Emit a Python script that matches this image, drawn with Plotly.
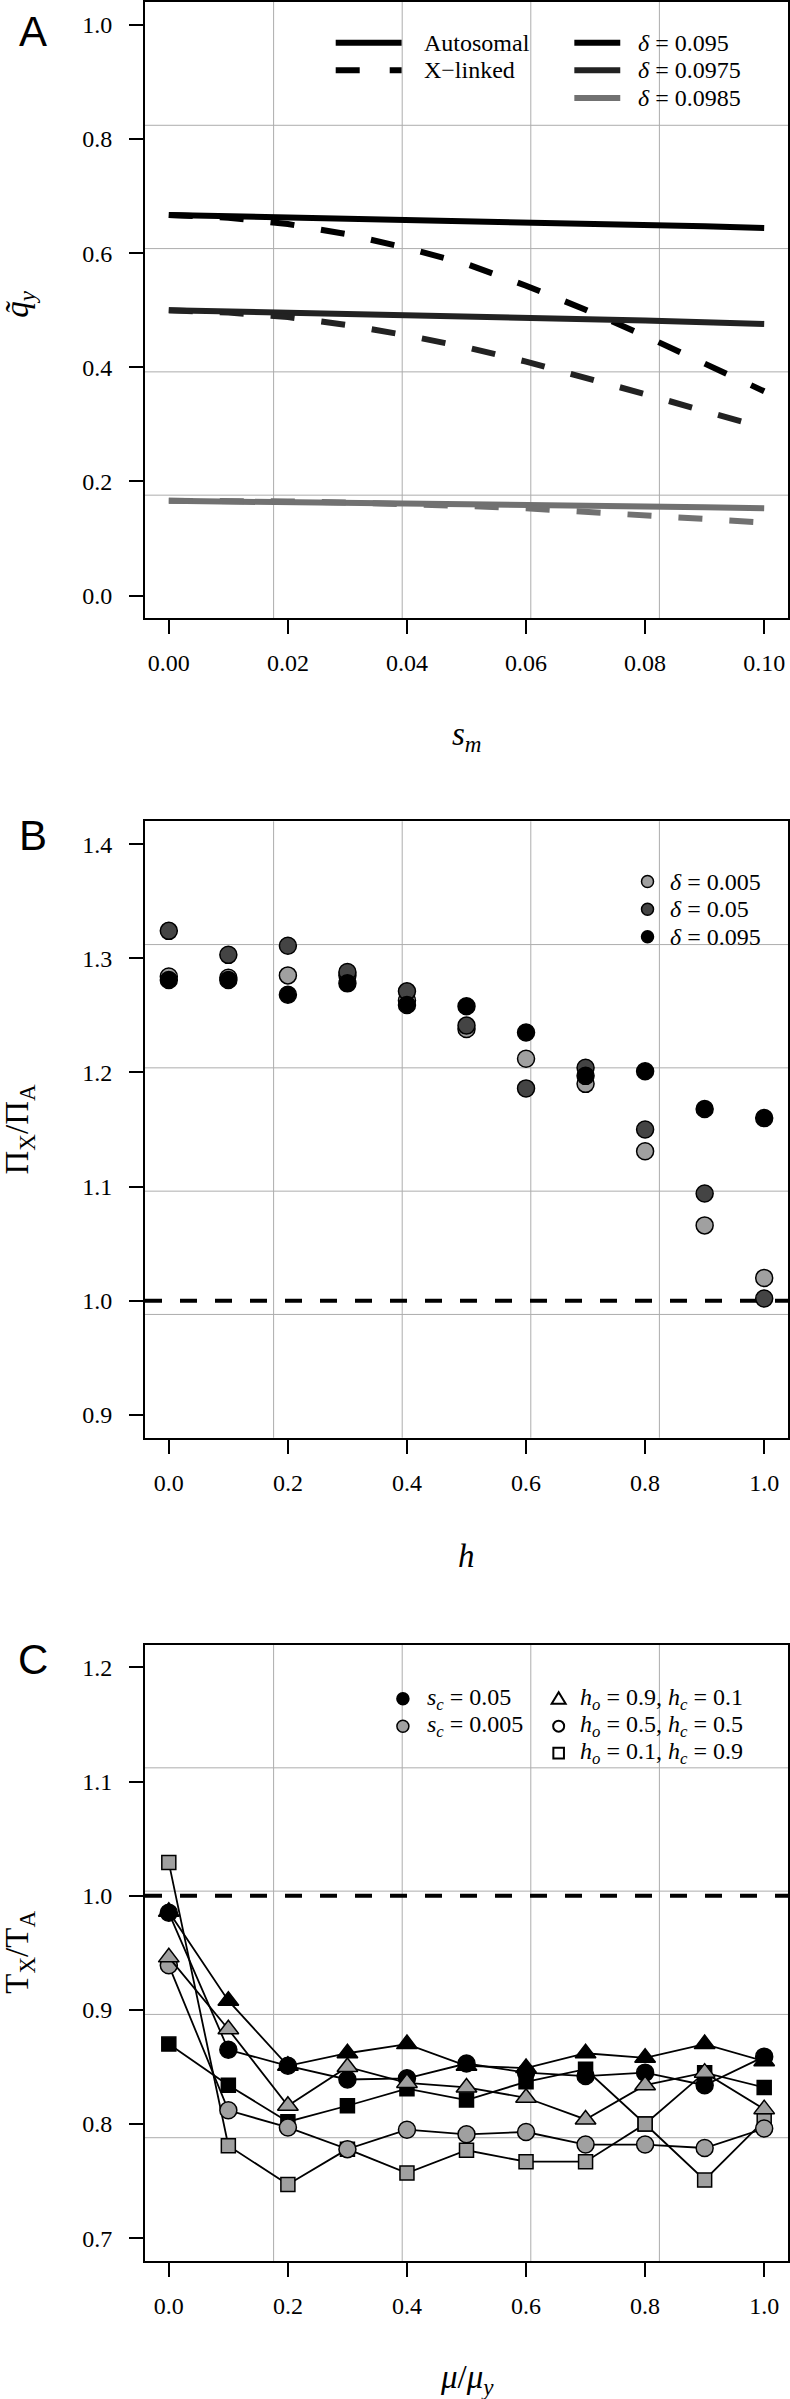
import plotly.graph_objects as go

# ---------------- DATA ----------------
# Panel A
s_m = [0.00, 0.01, 0.02, 0.03, 0.04, 0.05, 0.06, 0.07, 0.08, 0.09, 0.10]
auto_d095 = [0.667, 0.665, 0.663, 0.661, 0.659, 0.657, 0.655, 0.652, 0.650, 0.647, 0.644]
auto_d0975 = [0.500, 0.498, 0.496, 0.494, 0.492, 0.490, 0.487, 0.485, 0.482, 0.479, 0.476]
auto_d0985 = [0.166, 0.165, 0.164, 0.163, 0.161, 0.160, 0.159, 0.158, 0.156, 0.155, 0.153]
xlnk_d095 = [0.667, 0.662, 0.651, 0.633, 0.609, 0.581, 0.543, 0.501, 0.455, 0.406, 0.358]
xlnk_d0975 = [0.500, 0.496, 0.488, 0.474, 0.456, 0.435, 0.410, 0.382, 0.353, 0.323, 0.294]
xlnk_d0985 = [0.166, 0.166, 0.165, 0.163, 0.161, 0.157, 0.153, 0.147, 0.141, 0.135, 0.128]
deltas_A = ["0.095", "0.0975", "0.0985"]

# Panel B
h_vals = [0.0, 0.1, 0.2, 0.3, 0.4, 0.5, 0.6, 0.7, 0.8, 0.9, 1.0]
pi_d005 = [1.284, 1.283, 1.285, 1.285, 1.263, 1.238, 1.212, 1.190, 1.131, 1.066, 1.020]
pi_d05 = [1.324, 1.303, 1.311, 1.288, 1.271, 1.241, 1.186, 1.204, 1.150, 1.094, 1.002]
pi_d095 = [1.281, 1.281, 1.268, 1.278, 1.259, 1.258, 1.235, 1.197, 1.201, 1.168, 1.160]
deltas_B = ["0.005", "0.05", "0.095"]

# Panel C
mu_ratio = [0.0, 0.1, 0.2, 0.3, 0.4, 0.5, 0.6, 0.7, 0.8, 0.9, 1.0]
sc05_tri = [0.986, 0.908, 0.851, 0.862, 0.870, 0.851, 0.849, 0.862, 0.858, 0.870, 0.855]
sc05_cir = [0.985, 0.865, 0.851, 0.839, 0.840, 0.853, 0.845, 0.842, 0.845, 0.834, 0.859]
sc05_sq = [0.870, 0.834, 0.802, 0.816, 0.831, 0.821, 0.837, 0.848, 0.800, 0.845, 0.832]
sc005_tri = [0.946, 0.883, 0.816, 0.850, 0.836, 0.832, 0.823, 0.804, 0.834, 0.845, 0.813]
sc005_cir = [0.939, 0.812, 0.797, 0.778, 0.795, 0.791, 0.793, 0.782, 0.782, 0.779, 0.796]
sc005_sq = [1.029, 0.781, 0.747, 0.778, 0.757, 0.777, 0.767, 0.767, 0.800, 0.751, 0.803]

xt_A = [0.00, 0.02, 0.04, 0.06, 0.08, 0.10]
xt_A_lab = ["0.00", "0.02", "0.04", "0.06", "0.08", "0.10"]
yt_A = [0.0, 0.2, 0.4, 0.6, 0.8, 1.0]
yt_A_lab = ["0.0", "0.2", "0.4", "0.6", "0.8", "1.0"]
xt_BC = [0.0, 0.2, 0.4, 0.6, 0.8, 1.0]
xt_BC_lab = ["0.0", "0.2", "0.4", "0.6", "0.8", "1.0"]
yt_B = [0.9, 1.0, 1.1, 1.2, 1.3, 1.4]
yt_B_lab = ["0.9", "1.0", "1.1", "1.2", "1.3", "1.4"]
yt_C = [0.7, 0.8, 0.9, 1.0, 1.1, 1.2]
yt_C_lab = ["0.7", "0.8", "0.9", "1.0", "1.1", "1.2"]

# ---------------- LAYOUT GEOMETRY ----------------
W, H = 790, 2399
ML, MR, MT, MB = 145, 1, 0, 138
PW = W - ML - MR
PH = H - MT - MB
boxes = {1: (0, 617), 2: (820, 1437), 3: (1644, 2261)}  # top, bottom in px


def ydom(n):
    top, bot = boxes[n]
    return [(PH - bot) / PH, (PH - top) / PH]


def fx(xpx):
    return (xpx - ML) / PW


def fy(n, ypx):
    top, bot = boxes[n]
    return (bot - ypx) / (bot - top)


SERIF = "Liberation Serif"
SANS = "Liberation Sans"
BLACK = "#000000"
DARK = "#222222"
GREY = "#717171"
LGREY = "#a0a0a0"
MGREY = "#444444"
LINECOLS = [BLACK, DARK, GREY]
DASH = "24px,27px"

fig = go.Figure()

# Panel A traces
autos = [auto_d095, auto_d0975, auto_d0985]
xlnks = [xlnk_d095, xlnk_d0975, xlnk_d0985]
for i in range(3):
    fig.add_trace(go.Scatter(x=s_m, y=autos[i], mode="lines", xaxis="x", yaxis="y",
                             line=dict(color=LINECOLS[i], width=6), showlegend=False))
    fig.add_trace(go.Scatter(x=s_m, y=xlnks[i], mode="lines", xaxis="x", yaxis="y",
                             line=dict(color=LINECOLS[i], width=6, dash=DASH), showlegend=False))

# Panel B traces
for vals, col in [(pi_d005, LGREY), (pi_d05, MGREY), (pi_d095, BLACK)]:
    fig.add_trace(go.Scatter(x=h_vals, y=vals, mode="markers", xaxis="x2", yaxis="y2",
                             marker=dict(symbol="circle", size=17, color=col,
                                         line=dict(color="black", width=1.5)),
                             showlegend=False))

# Panel C traces
series_C = [
    (sc05_sq, "square", BLACK, 14),
    (sc05_cir, "circle", BLACK, 17),
    (sc05_tri, "triangle-up", BLACK, 18),
    (sc005_sq, "square", LGREY, 14),
    (sc005_cir, "circle", LGREY, 17),
    (sc005_tri, "triangle-up", LGREY, 18),
]
for vals, sym, col, sz in series_C:
    fig.add_trace(go.Scatter(x=mu_ratio, y=vals, mode="lines+markers", xaxis="x3", yaxis="y3",
                             line=dict(color="black", width=1.8),
                             marker=dict(symbol=sym, size=sz, color=col,
                                         line=dict(color="black", width=1.5)),
                             showlegend=False))

# ---------------- AXES ----------------
tickfont = dict(family=SERIF, size=24, color="black")


def ax(**kw):
    d = dict(showline=True, linecolor="black", linewidth=2, mirror=True,
             ticks="outside", ticklen=14, tickwidth=2, tickcolor="black",
             showgrid=False, zeroline=False, tickfont=tickfont, tickmode="array")
    d.update(kw)
    return d


XSO = 8
YSO = 12
layout = dict(
    width=W, height=H, margin=dict(l=ML, r=MR, t=MT, b=MB),
    paper_bgcolor="white", plot_bgcolor="white",
    xaxis=ax(domain=[0, 1], anchor="y", range=[-0.004, 0.104], tickvals=xt_A, ticktext=xt_A_lab,
             ticklabelstandoff=XSO),
    yaxis=ax(domain=ydom(1), anchor="x", range=[-0.04, 1.04], tickvals=yt_A, ticktext=yt_A_lab,
             ticklabelstandoff=YSO),
    xaxis2=ax(domain=[0, 1], anchor="y2", range=[-0.04, 1.04], tickvals=xt_BC, ticktext=xt_BC_lab,
              ticklabelstandoff=XSO),
    yaxis2=ax(domain=ydom(2), anchor="x2", range=[0.88, 1.42], tickvals=yt_B, ticktext=yt_B_lab,
              ticklabelstandoff=YSO),
    xaxis3=ax(domain=[0, 1], anchor="y3", range=[-0.04, 1.04], tickvals=xt_BC, ticktext=xt_BC_lab,
              ticklabelstandoff=XSO),
    yaxis3=ax(domain=ydom(3), anchor="x3", range=[0.68, 1.22], tickvals=yt_C, ticktext=yt_C_lab,
              ticklabelstandoff=YSO),
)
fig.update_layout(**layout)

shapes = []
annots = []

refs = {1: ("x domain", "y domain", "x", "y"),
        2: ("x2 domain", "y2 domain", "x2", "y2"),
        3: ("x3 domain", "y3 domain", "x3", "y3")}

# grid lines at 1/5 fractions of each box
for n in (1, 2, 3):
    xd, yd, _, _ = refs[n]
    for f in (0.2, 0.4, 0.6, 0.8):
        shapes.append(dict(type="line", xref=xd, yref=yd, x0=f, x1=f, y0=0, y1=1,
                           line=dict(color="#adadad", width=1), layer="below"))
        shapes.append(dict(type="line", xref=xd, yref=yd, x0=0, x1=1, y0=f, y1=f,
                           line=dict(color="#adadad", width=1), layer="below"))

# reference lines at 1.0 (B and C)
for n in (2, 3):
    xd, _, _, yr = refs[n]
    shapes.append(dict(type="line", xref=xd, yref=yr, x0=0, x1=1, y0=1.0, y1=1.0,
                       line=dict(color="black", width=4, dash="17px,18px"), layer="below"))

# ---------------- LEGENDS ----------------
lfont = dict(family=SERIF, size=24, color="black")


def text(n, xpx, ypx, s):
    xd, yd, _, _ = refs[n]
    annots.append(dict(xref=xd, yref=yd, x=fx(xpx), y=fy(n, ypx), text=s, showarrow=False,
                       xanchor="left", yanchor="middle", font=lfont))


# Legend A
rowsA = [40.7, 68.3, 96.0]
shapes.append(dict(type="line", xref="x domain", yref="y domain", x0=fx(336), x1=fx(402),
                   y0=fy(1, rowsA[0]), y1=fy(1, rowsA[0]), line=dict(color="black", width=6)))
shapes.append(dict(type="line", xref="x domain", yref="y domain", x0=fx(336), x1=fx(402),
                   y0=fy(1, rowsA[1]), y1=fy(1, rowsA[1]),
                   line=dict(color="black", width=6, dash="24px,30px")))
text(1, 422, rowsA[0], "Autosomal")
text(1, 422, rowsA[1], "X\u2212linked")
for i in range(3):
    shapes.append(dict(type="line", xref="x domain", yref="y domain", x0=fx(575), x1=fx(621),
                       y0=fy(1, rowsA[i]), y1=fy(1, rowsA[i]),
                       line=dict(color=LINECOLS[i], width=6)))
    text(1, 637, rowsA[i], "<i>\u03b4</i> = " + deltas_A[i])

# Legend B
rowsB = [880.3, 908.0, 935.5]
for i, col in enumerate([LGREY, MGREY, BLACK]):
    shapes.append(dict(type="circle", xref="x2 domain", yref="y2 domain",
                       xsizemode="pixel", ysizemode="pixel",
                       xanchor=fx(648.3), yanchor=fy(2, rowsB[i]), x0=-6, x1=6, y0=-6, y1=6,
                       fillcolor=col, line=dict(color="black", width=1.5)))
    text(2, 669, rowsB[i], "<i>\u03b4</i> = " + deltas_B[i])

# Legend C
rowsC = [1698.3, 1725.7, 1752.7]
for i, col in enumerate([BLACK, LGREY]):
    shapes.append(dict(type="circle", xref="x3 domain", yref="y3 domain",
                       xsizemode="pixel", ysizemode="pixel",
                       xanchor=fx(403.3), yanchor=fy(3, rowsC[i]), x0=-6, x1=6, y0=-6, y1=6,
                       fillcolor=col, line=dict(color="black", width=1.5)))
text(3, 425, rowsC[0], "<i>s<sub>c</sub></i> = 0.05")
text(3, 425, rowsC[1], "<i>s<sub>c</sub></i> = 0.005")
# open symbols
shapes.append(dict(type="path", xref="x3 domain", yref="y3 domain",
                   xsizemode="pixel", ysizemode="pixel",
                   xanchor=fx(559.3), yanchor=fy(3, rowsC[0]),
                   path="M -7,-5 L 7,-5 L 0,6.5 Z", fillcolor="white",
                   line=dict(color="black", width=2)))
shapes.append(dict(type="circle", xref="x3 domain", yref="y3 domain",
                   xsizemode="pixel", ysizemode="pixel",
                   xanchor=fx(559.3), yanchor=fy(3, rowsC[1]), x0=-5.5, x1=5.5, y0=-5.5, y1=5.5,
                   fillcolor="white", line=dict(color="black", width=2)))
shapes.append(dict(type="rect", xref="x3 domain", yref="y3 domain",
                   xsizemode="pixel", ysizemode="pixel",
                   xanchor=fx(559.3), yanchor=fy(3, rowsC[2]), x0=-5.3, x1=5.3, y0=-5.3, y1=5.3,
                   fillcolor="white", line=dict(color="black", width=2)))
text(3, 579, rowsC[0], "<i>h<sub>o</sub></i> = 0.9, <i>h<sub>c</sub></i> = 0.1")
text(3, 579, rowsC[1], "<i>h<sub>o</sub></i> = 0.5, <i>h<sub>c</sub></i> = 0.5")
text(3, 579, rowsC[2], "<i>h<sub>o</sub></i> = 0.1, <i>h<sub>c</sub></i> = 0.9")

# ---------------- AXIS TITLES & PANEL LABELS ----------------
tfont = dict(family=SERIF, size=33, color="black")
ytitles = {1: "<i>q\u0303</i><sub><i>y</i></sub>",
           2: "\u03a0<sub>X</sub>/\u03a0<sub>A</sub>",
           3: "T<sub>X</sub>/T<sub>A</sub>"}
xtitles = {1: "<i>s<sub>m</sub></i>",
           2: "<i>h</i>",
           3: "<i>\u03bc</i>/<i>\u03bc<sub>y</sub></i>"}
plabels = {1: ("A", 30), 2: ("B", 834), 3: ("C", 1659)}
for n in (1, 2, 3):
    xd, yd, _, _ = refs[n]
    if n == 1:
        # anchor at the start of the (rotated) text so the combining tilde cannot shift it
        annots.append(dict(xref=xd, yref=yd, x=0, y=fy(1, 318), xshift=20 - ML,
                           text=ytitles[n], textangle=-90, showarrow=False,
                           xanchor="center", yanchor="bottom", font=tfont))
    else:
        annots.append(dict(xref=xd, yref=yd, x=0, y=0.5, xshift=20 - ML, text=ytitles[n],
                           textangle=-90, showarrow=False, xanchor="center", yanchor="middle",
                           font=tfont))
    annots.append(dict(xref=xd, yref=yd, x=0.5, y=0, yshift=-118, text=xtitles[n],
                       showarrow=False, xanchor="center", yanchor="middle", font=tfont))
    lab, ypx = plabels[n]
    annots.append(dict(xref=xd, yref=yd, x=fx(33), y=fy(n, ypx), text=lab, showarrow=False,
                       xanchor="center", yanchor="middle",
                       font=dict(family=SANS, size=42, color="black")))

fig.update_layout(shapes=shapes, annotations=annots)
fig.write_html(
    "out.html",
    config={"displayModeBar": False},
    post_script="document.body.style.margin='0';document.body.style.padding='0';"
                "document.documentElement.style.overflow='hidden';",
)
